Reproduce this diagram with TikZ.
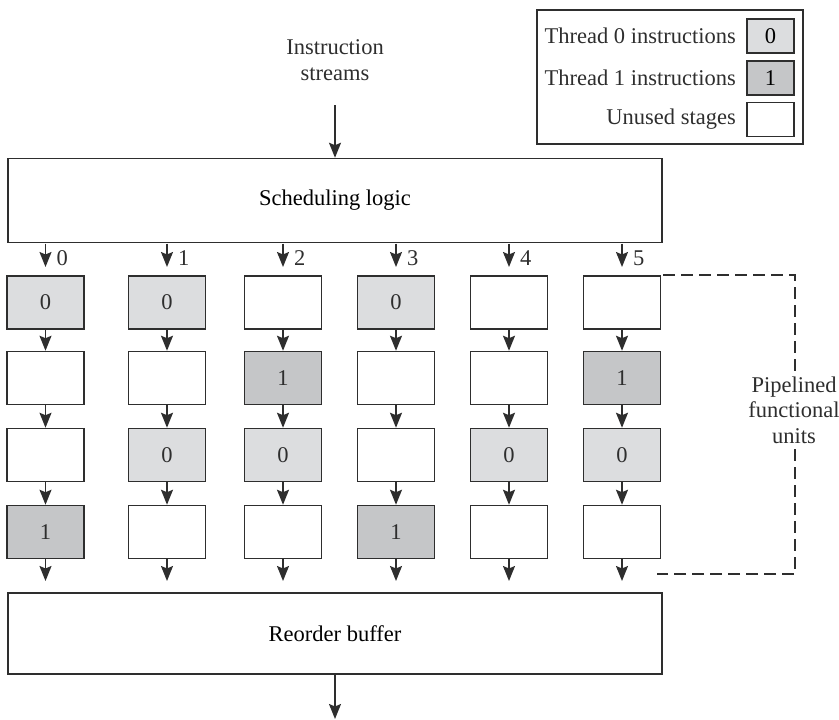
\documentclass[tikz,border=0pt]{standalone}
\usepackage{fontspec}
\setmainfont{Liberation Serif}
\usetikzlibrary{arrows.meta}
\definecolor{linegray}{HTML}{2E2E2E}
\definecolor{threadzero}{HTML}{DCDDDF}
\definecolor{threadone}{HTML}{C5C6C8}
\begin{document}
\begin{tikzpicture}[x=1pt,y=-1pt,
  font=\fontsize{22.5}{25.5}\selectfont,
  line/.style={draw=linegray,line width=1.5pt},
  flow/.style={line,-{Stealth[length=15pt,width=12pt,inset=2.5pt]}},
  bigbox/.style={line,minimum width=654pt,minimum height=84pt,inner sep=0pt},
  stagebox/.style={line,minimum width=77pt,minimum height=53pt,inner sep=0pt},
  tzero/.style={stagebox,fill=threadzero},
  tone/.style={stagebox,fill=threadone},
  unused/.style={stagebox,fill=white},
  swatch/.style={line,minimum width=47pt,minimum height=34pt,inner sep=0pt},
  txt/.style={inner sep=0pt,text=linegray}]
\useasboundingbox (0,0) rectangle (839,720);

% legend
\node[line,minimum width=266pt,minimum height=134pt,inner sep=0pt] (legend) at (670,77) {};
\node[swatch,fill=threadzero] (lz) at (770.5,36) {0};
\node[swatch,fill=threadone] (lo) at (770.5,78) {1};
\node[swatch,fill=white] (lu) at (770.5,119.5) {};
\node[txt,anchor=east] (lzt) at (736,36) {Thread 0 instructions};
\node[txt,anchor=east] (lot) at (736,78) {Thread 1 instructions};
\node[txt,anchor=east] (lut) at (736,119.5) {Unused stages};

% instruction input
\node[txt,align=center] (streams) at (335,60) {Instruction\\streams};
\node[bigbox] (sched) at (335,200.5) {Scheduling logic};
\coordinate (inp) at (335,105);
\draw[flow] (inp) -- (sched.north);

% functional unit columns
\foreach \c/\x/\a/\b/\d/\e in {0/45.5/tzero/unused/unused/tone,
                               1/167/tzero/unused/tzero/unused,
                               2/283/unused/tone/tzero/unused,
                               3/396/tzero/unused/unused/tone,
                               4/509/unused/unused/tzero/unused,
                               5/622/unused/tone/tzero/unused}{
  \node[\a] (b\c-1) at (\x,302.5) {};
  \node[\b] (b\c-2) at (\x,378) {};
  \node[\d] (b\c-3) at (\x,455) {};
  \node[\e] (b\c-4) at (\x,532) {};
  \coordinate (top\c) at (\x,243.7);
  \coordinate (in\c) at (\x,267);
  \coordinate (out\c) at (\x,581);
  \draw[flow] (top\c) -- (in\c);
  \node[txt,anchor=west] (lab\c) at (\x+11,258) {\c};
  \draw[flow] (b\c-1) -- (b\c-2);
  \draw[flow] (b\c-2) -- (b\c-3);
  \draw[flow] (b\c-3) -- (b\c-4);
  \draw[flow] (b\c-4.south) -- (out\c);
}

% stage contents
\foreach \n/\t in {b0-1/0,b1-1/0,b3-1/0,b2-2/1,b5-2/1,b1-3/0,b2-3/0,b4-3/0,b5-3/0,b0-4/1,b3-4/1}{
  \node[txt] at (\n) {\t};
}

% reorder buffer
\node[bigbox,minimum height=81pt] (rob) at (335,633.5) {Reorder buffer};
\coordinate (outp) at (335,719);
\draw[flow] (rob.south) -- (outp);

% pipelined units bracket
\coordinate (brt) at (663,275);
\coordinate (brb) at (657,574);
\draw[line,line width=1.2pt,dash pattern=on 12pt off 6pt] (brt) -| (795,574) -- (brb);
\node[txt,fill=white,align=center,inner sep=2pt] (pfu) at (794,410) {Pipelined\\functional\\units};
\end{tikzpicture}
\end{document}
